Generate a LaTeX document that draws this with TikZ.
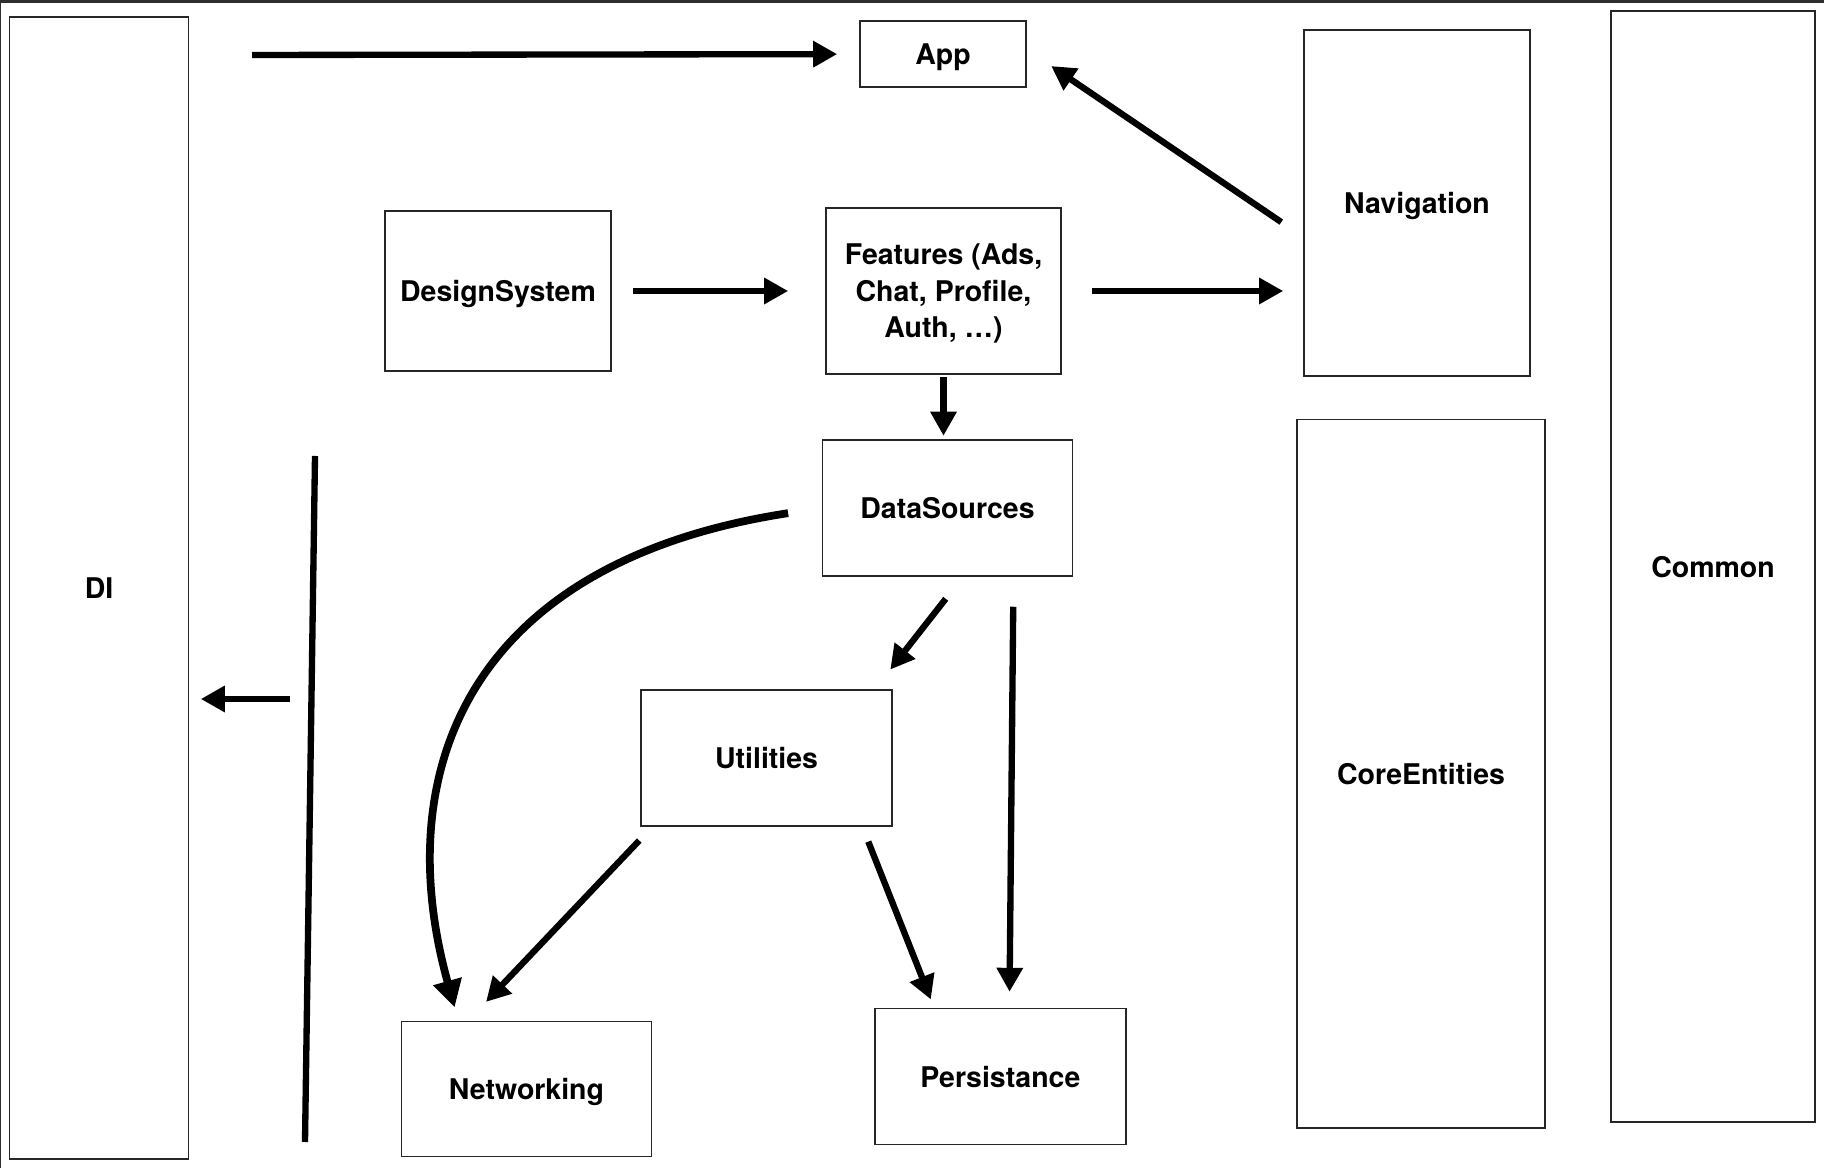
\documentclass[tikz,border=0pt]{standalone}
\usepackage{fontspec}
\setmainfont{TeX Gyre Heros}
\usepackage{tikz}
\colorlet{colorBox}{black!85}
\colorlet{colorDep}{black}
\colorlet{colorFrame}{black!82}
\usetikzlibrary{calc}
\usetikzlibrary{arrows.meta}
\usetikzlibrary{positioning}
\tikzset{
   every path/.style={>={Triangle[length=0.24cm,width=0.25cm]}},
   module/.style={draw=colorBox,line width=0.4pt,inner sep=0pt,align=center,text depth=0pt,
                  font=\bfseries\fontsize{8.1}{10.4}\selectfont},
   dep/.style={->,color=colorDep,line width=1.8pt},
   bigdep/.style={->,color=colorDep,line width=2.2pt,>={Triangle[length=0.27cm,width=0.28cm]}},
   wall/.style={color=colorDep,line width=1.8pt},
}

\begin{document}
\begin{tikzpicture}[x=0.01cm,y=-0.01cm]

        \useasboundingbox (0,0) rectangle (1824,1168);
        \fill[colorFrame] (0,0) rectangle (1824,3);
        \fill[colorFrame] (0,0) rectangle (1.2,1168);

        % side columns
        \node[module,minimum width=1.79cm,minimum height=11.41cm] (di)     at (99,588)    {DI};
        \node[module,minimum width=2.04cm,minimum height=11.10cm] (common) at (1713,566.5) {Common};
        \node[module,minimum width=2.48cm,minimum height=7.08cm]  (core)   at (1421,774)  {CoreEntities};
        \node[module,minimum width=2.26cm,minimum height=3.455cm] (nav)    at (1417,203)  {Navigation};

        % layers
        \node[module,minimum width=1.66cm,minimum height=0.66cm] (app)    at (943,54)      {App};
        \node[module,minimum width=2.26cm,minimum height=1.60cm] (design) at (498,291)     {DesignSystem};
        \node[module,minimum width=2.35cm,minimum height=1.66cm] (feat)   at (943.5,291)   {Features (Ads,\\Chat, Profile,\\Auth, \dots)};
        \node[module,minimum width=2.50cm,minimum height=1.36cm] (ds)     at (947.5,508)   {DataSources};
        \node[module,minimum width=2.51cm,minimum height=1.36cm] (util)   at (766.6,758)   {Utilities};
        \node[module,minimum width=2.50cm,minimum height=1.35cm] (net)    at (526.4,1089)  {Networking};
        \node[module,minimum width=2.51cm,minimum height=1.36cm] (pers)   at (1000.4,1076.6) {Persistance};

        \coordinate (diApp)   at (252,55);
        \coordinate (wallArr) at (290,699);
        \coordinate (wallTop) at (315,456);
        \coordinate (wallBot) at (305,1142);

        \draw[dep,shorten >=0.22cm] (diApp) -- (app);
        \draw[dep,shorten <=0.265cm,shorten >=0.295cm] ($(nav.west)+(0,34)$) -- ($(app.east)+(0,-4.5)$);
        \draw[dep,shorten <=0.21cm,shorten >=0.37cm] (design) -- (feat);
        \draw[dep,shorten <=0.30cm,shorten >=0.20cm] (feat.east) -- (feat.east -| nav.west);
        \draw[dep,shorten <=0.02cm,shorten >=0.035cm] (feat.south) -- (feat.south |- ds.north);

        \draw[bigdep,shorten <=0.34cm,shorten >=0.14cm] (ds.west) .. controls +(-352,54) and +(-70,-251) .. ($(net.north)+(-68,0)$);
        \draw[dep,shorten <=0.28cm,shorten >=0.25cm] ($(ds.south)+(15.5,0)$) -- ($(util.north east)+(-18,0)$);
        \draw[dep,shorten <=0.30cm,shorten >=0.16cm] ($(ds.south)+(66,0)$) -- ($(pers.north)+(9,0)$);
        \draw[dep,shorten <=0.19cm,shorten >=0.26cm] ($(util.south west)+(12,0)$) -- ($(net.north west)+(67.5,0)$);
        \draw[dep,shorten <=0.16cm,shorten >=0.09cm] ($(util.south east)+(-30.5,0)$) -- ($(pers.north west)+(60,0)$);

        \draw[dep,shorten >=0.115cm] (wallArr) -- (wallArr -| di.east);
        \draw[wall] (wallTop) -- (wallBot);

\end{tikzpicture}
\end{document}
